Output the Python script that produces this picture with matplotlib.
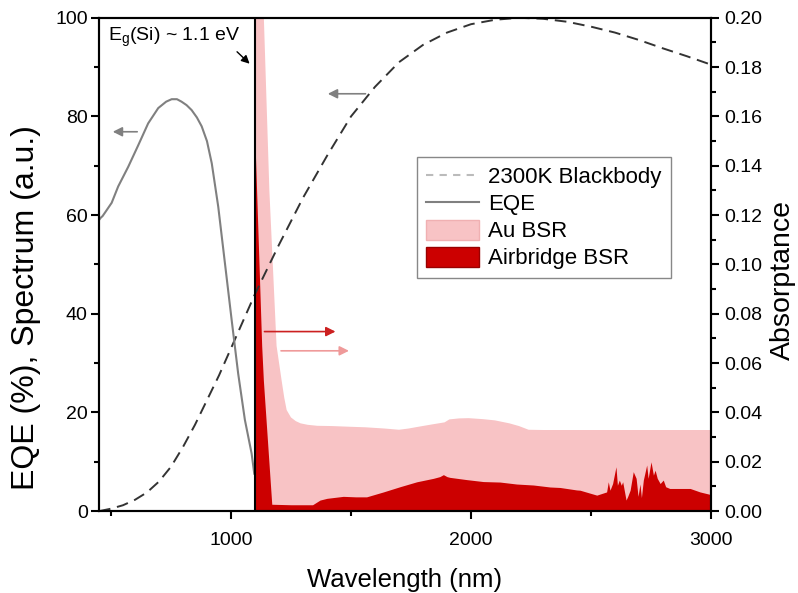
import numpy as np
import matplotlib
matplotlib.use("Agg")
import matplotlib.pyplot as plt
from matplotlib.ticker import MultipleLocator, FormatStrFormatter
from matplotlib.lines import Line2D
from matplotlib.patches import Patch

plt.rcParams["font.family"] = ["Liberation Sans", "DejaVu Sans"]

# 2300 K blackbody, normalised to 100 (left axis)
bb_wl = [450, 500, 550, 600, 650, 700, 750, 800, 850, 900, 950, 1000, 1050,
         1100, 1150, 1200, 1300, 1400, 1500, 1600, 1700, 1800, 1900, 2000,
         2100, 2200, 2300, 2400, 2500, 2600, 2700, 2800, 2900, 3000]
bb_val = [0.0, 0.5, 1.2, 2.3, 3.8, 6.0, 9.0, 13.0, 17.5, 22.5, 27.5, 33.0, 38.5,
          44.0, 49.0, 54.0, 63.5, 72.0, 80.0, 86.0, 91.0, 94.5, 97.0, 98.7,
          99.6, 100.0, 99.8, 99.2, 98.2, 97.0, 95.5, 93.8, 92.2, 90.5]

# EQE (%) (left axis)
eqe_wl = [450, 458, 465, 475, 503, 530, 572, 614, 655, 697, 730, 753, 775, 794,
          815, 836, 858, 878, 900, 920, 947, 975, 1003, 1030, 1058, 1086, 1097]
eqe_val = [59.0, 59.5, 59.8, 60.5, 62.5, 65.8, 69.8, 74.2, 78.6, 81.7, 83.0, 83.5,
           83.5, 83.0, 82.3, 81.3, 79.8, 78.0, 75.0, 70.5, 61.7, 50.2, 38.7, 27.9,
           18.5, 11.7, 7.6]

# Au BSR absorptance (right axis)
au_wl = [1100, 1110, 1125, 1137, 1160, 1190, 1211, 1222, 1232, 1250, 1270, 1290,
         1320, 1360, 1420, 1500, 1560, 1640, 1700, 1740, 1780, 1840, 1890, 1910,
         1950, 1990, 2050, 2100, 2160, 2200, 2240, 2300, 2400, 2500, 2600, 2700,
         2800, 2900, 3000]
au_abs = [0.60, 0.40, 0.28, 0.20, 0.13, 0.067, 0.053, 0.046, 0.041, 0.038, 0.0365,
          0.0356, 0.035, 0.0346, 0.0345, 0.0342, 0.034, 0.0335, 0.033, 0.0335,
          0.0342, 0.0352, 0.036, 0.0372, 0.0376, 0.0377, 0.0373, 0.0368, 0.0356,
          0.0345, 0.033, 0.0329, 0.0329, 0.0329, 0.0329, 0.0329, 0.0329, 0.0329,
          0.0329]

# Airbridge BSR absorptance (right axis)
ab_wl = [1100, 1128, 1135, 1170, 1250, 1340, 1371, 1400, 1468, 1520, 1565, 1600,
         1635, 1704, 1774, 1843, 1870, 1885, 1900, 1912, 1981, 2051, 2121, 2190,
         2260, 2329, 2371, 2440, 2454, 2524, 2565, 2572, 2579, 2590, 2604, 2610,
         2618, 2626, 2632, 2646, 2653, 2663, 2676, 2688, 2696, 2704, 2710, 2718,
         2732, 2738, 2750, 2760, 2767, 2776, 2788, 2801, 2811, 2828, 2857, 2913,
         2954, 2996, 3000]
ab_abs = [0.150, 0.067, 0.053, 0.0028, 0.0026, 0.0026, 0.0045, 0.0052, 0.006,
          0.0058, 0.0058, 0.0068, 0.0078, 0.0099, 0.0119, 0.0133, 0.014, 0.0148,
          0.014, 0.0137, 0.0128, 0.012, 0.0118, 0.011, 0.0106, 0.0098, 0.0096,
          0.0086, 0.0085, 0.0065, 0.0078, 0.0119, 0.0085, 0.0112, 0.018, 0.0105,
          0.0126, 0.0105, 0.0119, 0.0045, 0.006, 0.0085, 0.016, 0.0133, 0.006,
          0.011, 0.0055, 0.0126, 0.0187, 0.0133, 0.02, 0.0146, 0.0166, 0.0133,
          0.0112, 0.0126, 0.0099, 0.0092, 0.0092, 0.0092, 0.0078, 0.0068, 0.0068]

AU_COLOR = "#f8c3c5"
AB_COLOR = "#cc0000"

fig = plt.figure(figsize=(7.98, 5.93), dpi=100)
ax = fig.add_axes([0.124, 0.138, 0.767, 0.832])
ax2 = ax.twinx()

ax2.fill_between(au_wl, au_abs, 0, color=AU_COLOR, lw=0)
ax2.fill_between(ab_wl, ab_abs, 0, color=AB_COLOR, lw=0)

ax.set_zorder(ax2.get_zorder() + 1)
ax.patch.set_visible(False)

ax.plot(bb_wl, bb_val, color="#333333", lw=1.4, ls=(0, (6, 3.5)))
ax.plot(eqe_wl, eqe_val, color="#808080", lw=1.5)
ax.axvline(1100, color="black", lw=1.5)

ax.annotate("", xy=(1086, 90.3), xytext=(1017, 93.5),
            arrowprops=dict(arrowstyle="-|>", color="black", lw=1, mutation_scale=12))
ax.text(487, 96.0, r"E$_\mathregular{g}$(Si) ~ 1.1 eV", fontsize=14, va="center", ha="left")

for tail, head, y, c in [(621, 496, 76.9, "#808080"), (1572, 1392, 84.6, "#808080"),
                         (1128, 1447, 36.4, "#cc2020"), (1197, 1503, 32.5, "#ef9a9a")]:
    ax.annotate("", xy=(head, y), xytext=(tail, y),
                arrowprops=dict(arrowstyle="-|>", color=c, lw=1.2, mutation_scale=14))

ax.set_xlim(450, 3000)
ax.set_ylim(0, 100)
ax2.set_ylim(0, 0.2)

ax.xaxis.set_major_locator(MultipleLocator(1000))
ax.xaxis.set_minor_locator(MultipleLocator(500))
ax.yaxis.set_major_locator(MultipleLocator(20))
ax.yaxis.set_minor_locator(MultipleLocator(10))
ax2.yaxis.set_major_locator(MultipleLocator(0.02))
ax2.yaxis.set_minor_locator(MultipleLocator(0.01))
ax2.yaxis.set_major_formatter(FormatStrFormatter("%.2f"))

for a in (ax, ax2):
    for s in a.spines.values():
        s.set_linewidth(1.5)
    a.tick_params(which="major", direction="out", length=6, width=1.5, labelsize=14)
    a.tick_params(which="minor", direction="out", length=3.5, width=1.5)
ax.tick_params(which="both", top=False, right=False)
ax.tick_params(axis="x", which="major", pad=9)
ax.tick_params(axis="y", which="major", pad=2)

ax.set_xlabel("Wavelength (nm)", fontsize=18.5)
ax.xaxis.set_label_coords(0.5, -0.115)
ax.set_ylabel("EQE (%), Spectrum (a.u.)", fontsize=23)
ax.yaxis.set_label_coords(-0.095, 0.412)
ax2.set_ylabel("Absorptance", fontsize=20.5)
ax2.yaxis.set_label_coords(1.097, 0.469)

handles = [Line2D([], [], color="#bbbbbb", lw=1.5, ls=(0, (3.5, 3))),
           Line2D([], [], color="#808080", lw=1.5),
           Patch(facecolor=AU_COLOR, edgecolor="#f0b0b2"),
           Patch(facecolor=AB_COLOR, edgecolor="#990000")]
labels = ["2300K Blackbody", "EQE", "Au BSR", "Airbridge BSR"]
leg = ax.legend(handles, labels, loc="upper left", bbox_to_anchor=(0.52, 0.718),
                borderaxespad=0, fontsize=16, frameon=True, fancybox=False,
                edgecolor="#888888", framealpha=1, handlelength=2.4,
                handleheight=1.0, handletextpad=0.4, labelspacing=0.2,
                borderpad=0.4)
leg.get_frame().set_linewidth(1.0)

fig.savefig("out.png", dpi=100)
